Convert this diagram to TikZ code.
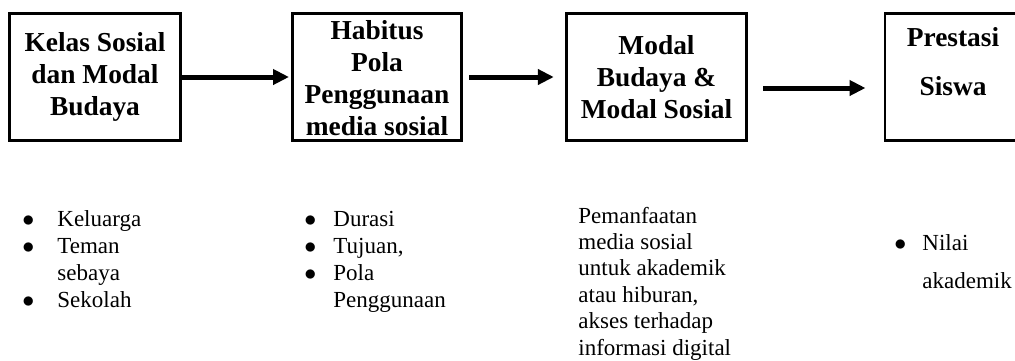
\documentclass[tikz,border=0pt]{standalone}
\usepackage{fontspec}
\setmainfont{Liberation Serif}
\usepackage{tikz}
\usetikzlibrary{positioning}
\usetikzlibrary{arrows.meta}

\newcommand{\butir}{$\bullet$}

\begin{document}
\begin{tikzpicture}[x=0.5pt,y=-0.5pt]
\tikzstyle{box}=[rectangle,align=center,draw,line width=1.3pt,inner sep=0pt,minimum height=63.7pt,font=\fontsize{13.7}{16}\selectfont\bfseries]
\tikzstyle{poin}=[anchor=base west,inner sep=0pt,font=\fontsize{11.5}{13.6}\selectfont]
\tikzstyle{panah}=[-{Triangle[length=8pt,width=7.5pt]},line width=2.5pt]
\useasboundingbox (0,0) rectangle (1015,360);
\node[box,minimum width=85.7pt] at(95,77) (kelas) {Kelas Sosial\\dan Modal\\Budaya};
\node[box,minimum width=84.7pt,text height=58.8pt] at(377,77) (habitus) {Habitus\\Pola\\Penggunaan\\media sosial};
\node[box,minimum width=90.2pt] at(656.5,77) (modal) {Modal\\Budaya \&\\Modal Sosial};
\node[box,minimum width=68pt,text depth=16pt] at(953,77) (prestasi) {Prestasi\\[8.5pt]Siswa};
\draw[panah,shorten >=1pt] (kelas.east) -- (habitus.west);
\draw[panah,shorten <=3pt,shorten >=5.6pt] (habitus.east) -- (modal.west);
\draw[panah,shorten <=7.6pt,shorten >=9.1pt] ([yshift=-5.5pt]modal.east) -- ([yshift=-5.5pt]prestasi.west);
% daftar indikator di bawah kotak
\node[poin] at(22,226) (keluarga) {\begin{tabular}[t]{@{}p{17.5pt}@{}l@{}}
  \butir & Keluarga\\
  \butir & Teman\\
         & sebaya\\
  \butir & Sekolah
\end{tabular}};
\node[poin] at(304,226) (durasi) {\begin{tabular}[t]{@{}p{14.5pt}@{}l@{}}
  \butir & Durasi\\
  \butir & Tujuan,\\
  \butir & Pola\\
         & Penggunaan
\end{tabular}};
\node[poin,font=\fontsize{11.5}{13.2}\selectfont] at(578,223) (pemanfaatan) {\begin{tabular}[t]{@{}l@{}}
  Pemanfaatan\\
  media sosial\\
  untuk akademik\\
  atau hiburan,\\
  akses terhadap\\
  informasi digital
\end{tabular}};
\node[poin] at(894,250) (nilai) {\begin{tabular}[t]{@{}p{14pt}@{}l@{}}
  \butir & Nilai\\[5.4pt]
         & akademik
\end{tabular}};
\end{tikzpicture}
\end{document}
